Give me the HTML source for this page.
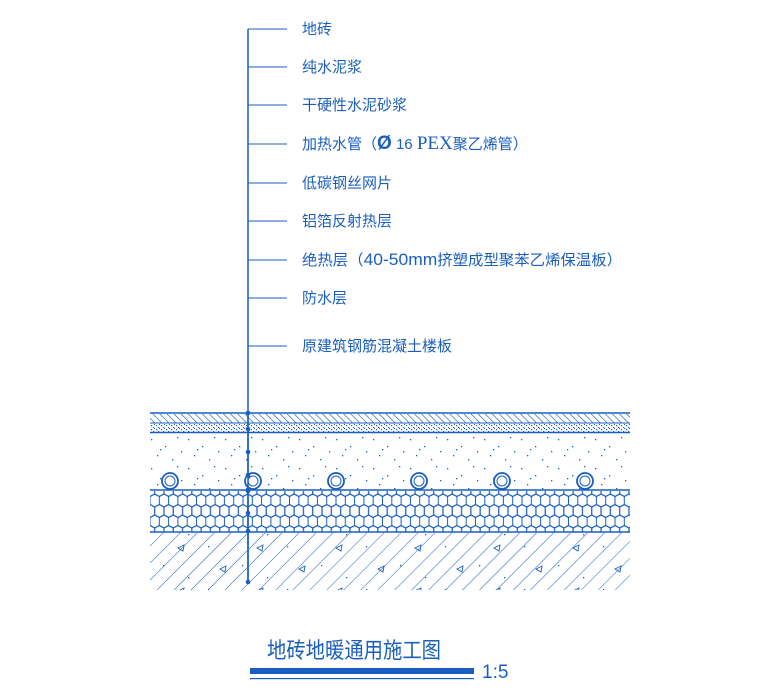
<!DOCTYPE html>
<html><head><meta charset="utf-8"><style>
html,body{margin:0;padding:0;background:#fff;width:766px;height:699px;overflow:hidden}
svg{display:block}
text{font-family:"Liberation Sans","Noto Sans CJK SC",sans-serif;fill:#1a5fc0}
</style></head><body>
<svg width="766" height="699" viewBox="0 0 766 699" xmlns="http://www.w3.org/2000/svg">
<defs>
<pattern id="h1" width="5" height="5" patternUnits="userSpaceOnUse" patternTransform="rotate(-45)"><line x1="0" y1="0" x2="0" y2="5" stroke="#1a5fc0" stroke-width="1.3"/></pattern>
<pattern id="dots" width="5" height="4" patternUnits="userSpaceOnUse"><rect x="1" y="1" width="1.2" height="1.2" fill="#1a5fc0"/><rect x="3" y="3" width="1.2" height="1" fill="#1a5fc0"/><rect x="4" y="0" width="1" height="1" fill="#1a5fc0"/></pattern>
<pattern id="sp" width="37" height="29" patternUnits="userSpaceOnUse"><g fill="#1a5fc0"><rect x="3" y="4" width="1.3" height="1.3"/><rect x="17" y="11" width="1.3" height="1.3"/><rect x="29" y="2" width="1.3" height="1.3"/><rect x="9" y="20" width="1.3" height="1.3"/><rect x="24" y="24" width="1.3" height="1.3"/><rect x="33" y="16" width="1.3" height="1.3"/><rect x="12" y="14" width="1.3" height="1.3"/></g></pattern>
<pattern id="sp2" width="79" height="43" patternUnits="userSpaceOnUse"><g fill="#1a5fc0"><rect x="5" y="6" width="1.3" height="1.3"/><rect x="50" y="30" width="1.3" height="1.3"/><rect x="30" y="18" width="1.3" height="1.3"/></g><path d="M62 10 l6 -3 l-1 6z" fill="none" stroke="#1a5fc0" stroke-width="0.9"/><path d="M20 32 l6 -3 l-1 6z" fill="none" stroke="#1a5fc0" stroke-width="0.9"/></pattern>
<pattern id="hex" width="9.3" height="21" patternUnits="userSpaceOnUse" x="150" y="490">
<g fill="none" stroke="#1a5fc0" stroke-width="1">
<path id="hx" d="M0,-6.5 L4.65,-4 L4.65,4 L0,6.5 L-4.65,4 L-4.65,-4Z"/>
<use href="#hx" x="9.3" y="0"/><use href="#hx" x="0" y="21"/><use href="#hx" x="9.3" y="21"/><use href="#hx" x="4.65" y="10.5"/>
</g></pattern>
<pattern id="diag" width="12" height="12" patternUnits="userSpaceOnUse" patternTransform="rotate(45)"><line x1="0" y1="0" x2="0" y2="12" stroke="#1a5fc0" stroke-width="1"/></pattern>
</defs>
<g stroke="#1a5fc0" fill="none">
<line x1="248" y1="29" x2="248" y2="583" stroke-width="1.5"/>
<g stroke-width="1">
<line x1="248" y1="29" x2="287" y2="29"/><line x1="248" y1="67" x2="287" y2="67"/><line x1="248" y1="105" x2="287" y2="105"/><line x1="248" y1="144" x2="287" y2="144"/><line x1="248" y1="183" x2="287" y2="183"/><line x1="248" y1="221" x2="287" y2="221"/><line x1="248" y1="260" x2="287" y2="260"/><line x1="248" y1="298" x2="287" y2="298"/><line x1="248" y1="346" x2="287" y2="346"/>
</g>
</g>
<rect x="150" y="414" width="480" height="9" fill="url(#h1)"/>
<rect x="150" y="424" width="480" height="8" fill="url(#dots)"/>
<rect x="150" y="433" width="480" height="57" fill="url(#sp)"/>
<rect x="150" y="491" width="480" height="41" fill="url(#hex)"/>
<rect x="150" y="533" width="480" height="57" fill="url(#diag)"/>
<rect x="150" y="533" width="480" height="57" fill="url(#sp2)"/>
<g stroke="#1a5fc0" stroke-width="1.6">
<line x1="150" y1="413" x2="630" y2="413"/><line x1="150" y1="423" x2="630" y2="423" stroke-width="1"/><line x1="150" y1="432.5" x2="630" y2="432.5"/><line x1="150" y1="490" x2="630" y2="490"/><line x1="150" y1="532" x2="630" y2="532"/>
</g>
<g stroke="#1a5fc0" stroke-width="1.8" fill="#fff">
<circle cx="170" cy="481" r="8"/><circle cx="253" cy="481" r="8"/><circle cx="336" cy="481" r="8"/><circle cx="419" cy="481" r="8"/><circle cx="502" cy="481" r="8"/><circle cx="585" cy="481" r="8"/>
</g>
<g stroke="#1a5fc0" stroke-width="1" fill="#fff">
<circle cx="170" cy="481" r="5"/><circle cx="253" cy="481" r="5"/><circle cx="336" cy="481" r="5"/><circle cx="419" cy="481" r="5"/><circle cx="502" cy="481" r="5"/><circle cx="585" cy="481" r="5"/>
</g>
<line x1="248" y1="413" x2="248" y2="583" stroke="#1a5fc0" stroke-width="1.5"/>
<g fill="#1a5fc0"><circle cx="248" cy="413" r="2.3"/><circle cx="248" cy="429" r="2.3"/><circle cx="248" cy="452" r="2.3"/><circle cx="248" cy="475" r="2.3"/><circle cx="248" cy="491" r="2.3"/><circle cx="248" cy="513" r="2.3"/><circle cx="248" cy="531" r="2.3"/><circle cx="248" cy="582" r="2.3"/></g>
<g font-size="15">
<text x="302" y="34">地砖</text>
<text x="302" y="72">纯水泥浆</text>
<text x="302" y="110">干硬性水泥砂浆</text>
<text x="302" y="149">加热水管（<tspan font-size="19" font-weight="bold">Ø</tspan>  16  <tspan font-family="Liberation Serif" font-size="19">PEX</tspan>聚乙烯管）</text>
<text x="302" y="188">低碳钢丝网片</text>
<text x="302" y="226">铝箔反射热层</text>
<text x="302" y="265" textLength="320" lengthAdjust="spacingAndGlyphs">绝热层（<tspan font-size="17">40-50mm</tspan>挤塑成型聚苯乙烯保温板）</text>
<text x="302" y="303">防水层</text>
<text x="302" y="351">原建筑钢筋混凝土楼板</text>
</g>
<text x="267" y="658" font-size="22" textLength="174" lengthAdjust="spacingAndGlyphs">地砖地暖通用施工图</text>
<rect x="250" y="668" width="224" height="6" fill="#1a5fc0"/>
<rect x="250" y="678" width="224" height="1.2" fill="#1a5fc0"/>
<text x="482" y="678" font-size="19">1:5</text>
</svg>
</body></html>
